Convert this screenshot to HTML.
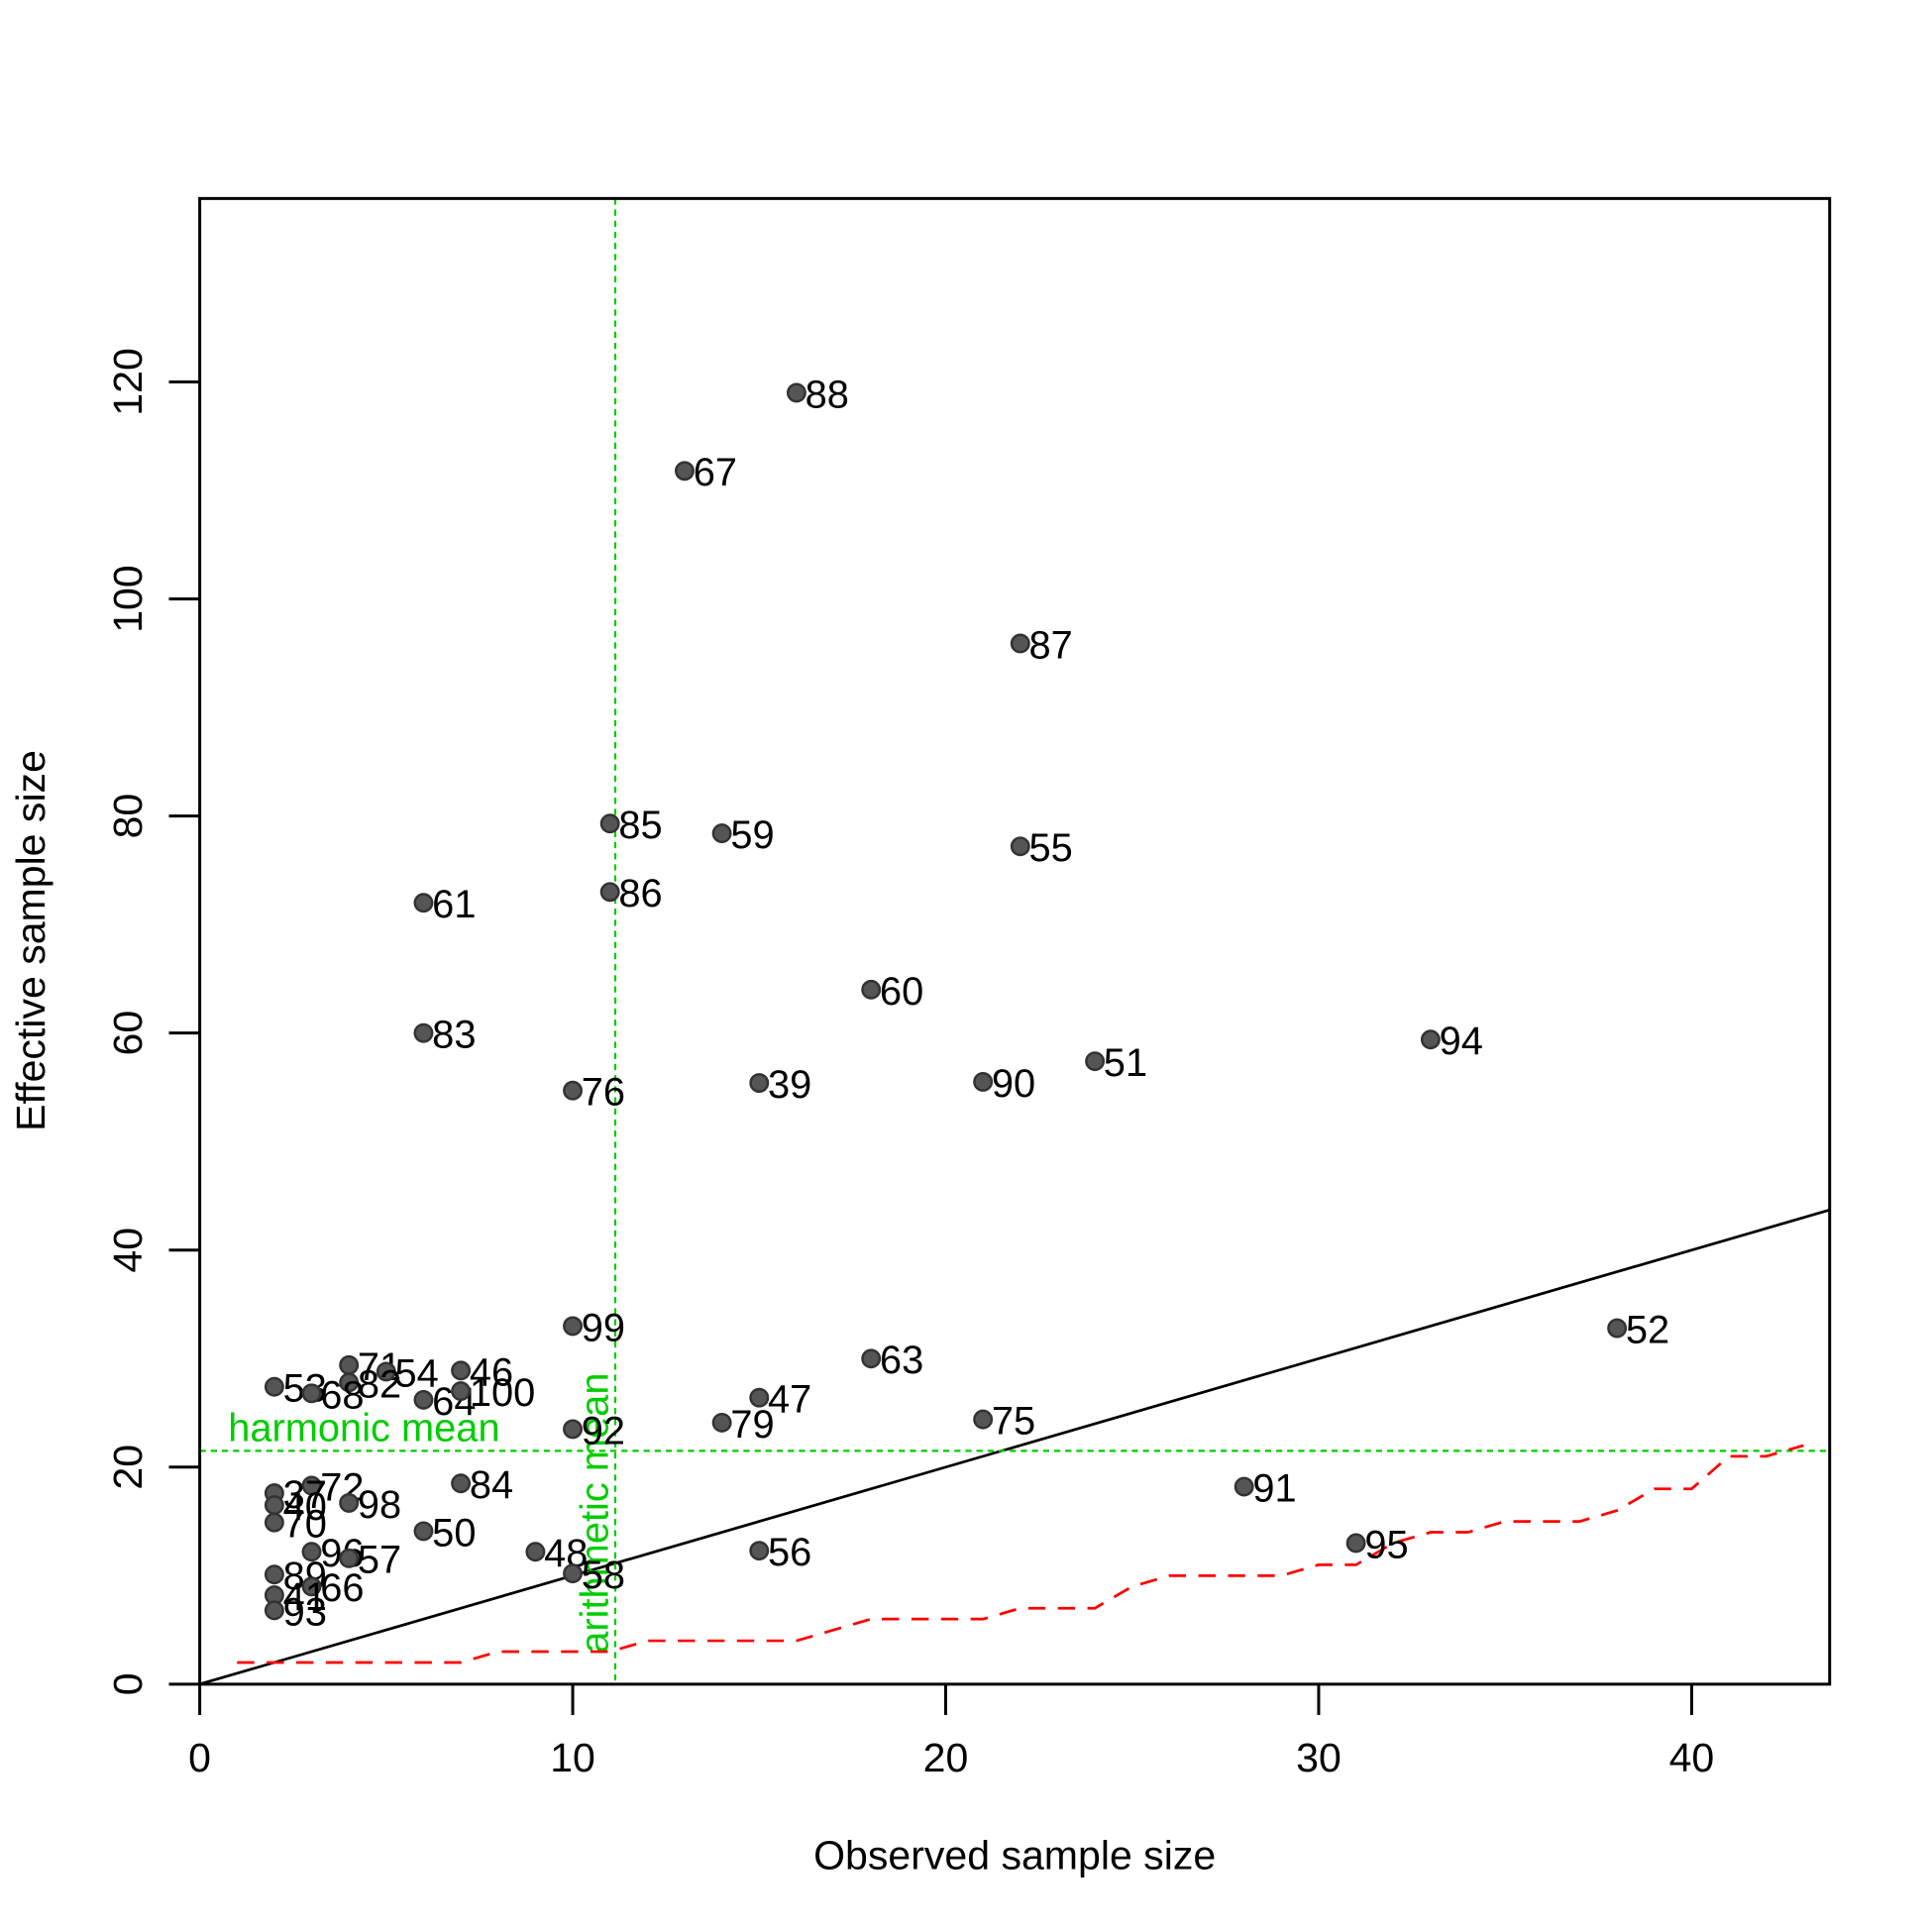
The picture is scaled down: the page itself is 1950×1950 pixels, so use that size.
<!DOCTYPE html>
<html><head><meta charset="utf-8"><style>
html,body{margin:0;padding:0;background:#fff;}
svg{display:block;font-family:"Liberation Sans",Arial,sans-serif;}
</style></head><body>
<svg id="chart" width="1950" height="1950" viewBox="0 0 1567 1567" xmlns="http://www.w3.org/2000/svg">
<rect width="1567" height="1567" fill="#fff"/>
<g id="ticks"></g>
<g id="lines"></g>
<g id="pts"></g>
<rect x="162" y="161" width="1322" height="1205" fill="none" stroke="#000" stroke-width="2.4"/>
<text x="823" y="1516" font-size="33" text-anchor="middle">Observed sample size</text>
<text transform="translate(36,763) rotate(-90)" font-size="33" text-anchor="middle">Effective sample size</text>
</svg>
<script>
const ids = [88,67,87,85,59,55,86,61,60,83,94,51,90,39,76,99,52,63,71,54,46,82,53,68,64,100,47,75,79,92,91,84,72,37,98,40,70,50,95,56,48,96,57,58,89,66,41,93];
const obsX = [16,13,22,11,14,22,11,6,18,6,33,24,21,15,10,10,38,18,4,5,7,4,2,3,6,7,15,21,14,10,28,7,3,2,4,2,2,6,31,15,9,3,4,10,2,3,2,2];
const effY = [119,111.8,95.9,79.3,78.4,77.2,73,72,64,60,59.4,57.4,55.5,55.4,54.7,33,32.8,30,29.4,28.8,28.9,27.8,27.4,26.8,26.2,27,26.4,24.4,24.1,23.5,18.2,18.5,18.3,17.6,16.7,16.5,14.9,14.1,13,12.3,12.2,12.2,11.6,10.2,10.1,9,8.2,6.8];
const minX = [1,2,3,4,5,6,7,8,9,10,11,12,13,14,15,16,17,18,19,20,21,22,23,24,25,26,27,28,29,30,31,32,33,34,35,36,37,38,39,40,41,42,43];
const minY = [2,2,2,2,2,2,2,3,3,3,3,4,4,4,4,4,5,6,6,6,6,7,7,7,9,10,10,10,10,11,11,13,14,14,15,15,15,16,18,18,21,21,22];
const xTicks = [0,10,20,30,40];
const yTicks = [0,20,40,60,80,100,120];
const harmonicMean = 21.5;
const arithmeticMean = 11.14;

const X0=162, X1=1484, Y0=1366, Y1=161, xMax=43.7, yMax=136.9;
const sx = v => X0 + v/xMax*(X1-X0);
const sy = v => Y0 - v/yMax*(Y0-Y1);
const NS="http://www.w3.org/2000/svg";
function mk(parent, tag, attrs){const e=document.createElementNS(NS,tag);for(const k in attrs)e.setAttribute(k,attrs[k]);parent.appendChild(e);return e;}
const T=document.getElementById('ticks'), L=document.getElementById('lines'), P=document.getElementById('pts');

xTicks.forEach(v=>{
  const l=mk(T,'line',{x1:sx(v),x2:sx(v),y1:Y0,y2:Y0+25,stroke:'#000','stroke-width':2.4});
  
  
  const t=mk(T,'text',{x:sx(v),y:Y0+71,'font-size':33,'text-anchor':'middle'});
  t.textContent=v;
  
  
});
yTicks.forEach(v=>{
  const l=mk(T,'line',{x1:X0-25,x2:X0,y1:sy(v),y2:sy(v),stroke:'#000','stroke-width':2.4});
  
  
  const t=mk(T,'text',{transform:`translate(${X0-47},${sy(v)}) rotate(-90)`,'font-size':33,'text-anchor':'middle'});
  t.textContent=v;
  
  
});

const idl=mk(L,'line',{x1:sx(0),y1:sy(0),x2:sx(xMax),y2:sy(xMax),stroke:'#000','stroke-width':2.2});


const hl=mk(L,'line',{x1:X0,x2:X1,y1:sy(harmonicMean),y2:sy(harmonicMean),stroke:'#00cc00','stroke-width':1.8,'stroke-dasharray':'5 4'});


const vl=mk(L,'line',{x1:sx(arithmeticMean),x2:sx(arithmeticMean),y1:Y1,y2:Y0,stroke:'#00cc00','stroke-width':1.8,'stroke-dasharray':'5 4'});


const ht=mk(L,'text',{x:185,y:sy(harmonicMean)-8,'font-size':32,fill:'#00cc00'});
ht.textContent='harmonic mean';


const at=mk(L,'text',{transform:`translate(${sx(arithmeticMean)-6},${Y0-25}) rotate(-90)`,'font-size':32,fill:'#00cc00'});
at.textContent='arithmetic mean';



let d='';
minX.forEach((v,i)=>{d+=(i?'L':'M')+sx(v)+','+sy(minY[i]);});
const rl=mk(L,'path',{d:d,fill:'none',stroke:'#ff0000','stroke-width':2.2,'stroke-dasharray':'14 10'});



ids.forEach((id,i)=>{
  const c=mk(P,'circle',{cx:sx(obsX[i]),cy:sy(effY[i]),r:7,fill:'#555',stroke:'#333','stroke-width':2});
  
  
  const t=mk(P,'text',{x:sx(obsX[i])+7,y:sy(effY[i])+12,'font-size':32});
  t.textContent=id;
  
  
});
</script>
</body></html>
